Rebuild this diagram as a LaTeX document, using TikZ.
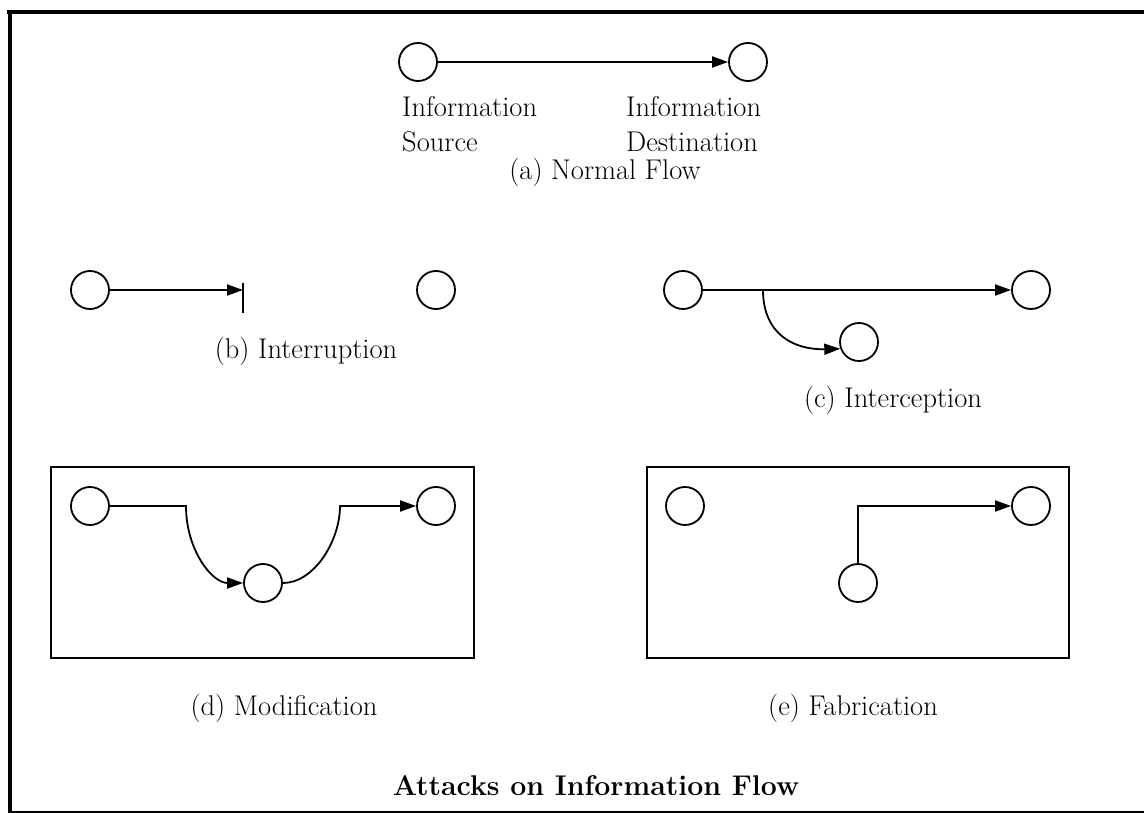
\documentclass[tikz,border=0pt]{standalone}
\usepackage{fontspec}
\usetikzlibrary{arrows.meta,positioning}
\tikzset{
  party/.style   = {draw, circle, line width=1.8pt, minimum size=38pt, inner sep=0pt},
  flow/.style    = {-{Triangle[length=16pt,width=11pt]}, line width=1.8pt},
  wire/.style    = {line width=1.8pt},
  panel/.style   = {draw, line width=1.8pt},
  caption/.style = {font=\fontsize{28.5}{35}\selectfont, inner sep=0pt, anchor=base},
  who/.style     = {caption, anchor=base west, align=left}
}

\begin{document}
\begin{tikzpicture}[x=1pt,y=-1pt]
  \useasboundingbox (0,0) rectangle (1144,813);
  % ---- outer frame (open on the right) ----
  \draw[line width=4pt] (7,12.5) -- (1144,12.5);
  \draw[line width=4pt] (10,11) -- (10,813);
  \draw[line width=1.5pt] (8,812) -- (1144,812);

  % ---- (a) normal flow ----
  \node[party] (asrc) at (418,62) {};
  \node[party] (adst) at (748,62) {};
  \draw[flow] (asrc) -- (adst);
  % base anchor sits on the last line
  \node[who] (asrcl) at (402,152) {Information\\Source};
  \node[who] (adstl) at (626,152) {Information\\Destination};
  \node[caption] (acap) at (605,180) {(a) Normal Flow};

  % ---- (b) interruption ----
  \node[party] (bsrc) at (90,290) {};
  \node[party] (bdst) at (436,290) {};
  \coordinate (bcut) at (243,290);
  \draw[flow] (bsrc) -- (bcut);
  \draw[wire] (243,283) -- (243,313);
  \node[caption] (bcap) at (306,358) {(b) Interruption};

  % ---- (c) interception ----
  \node[party] (csrc) at (683,290) {};
  \node[party] (cdst) at (1031,290) {};
  \node[party] (cspy) at (859,342) {};
  \draw[flow] (csrc) -- (cdst);
  \coordinate (ctap) at (763,290);
  \draw[flow] (ctap) .. controls (763,335) and (795,350) .. (cspy.200);
  \node[caption] (ccap) at (893,407) {(c) Interception};

  % ---- (d) modification ----
  \draw[panel] (51,467) rectangle (474,658);
  \node[party] (dsrc) at (90,506) {};
  \node[party] (ddst) at (436,506) {};
  \node[party] (dmid) at (263,583) {};
  \coordinate (ddown) at (186,506);
  \coordinate (dup) at (340,506);
  \draw[flow] (dsrc) -- (ddown) .. controls (186,550) and (212,583) .. (dmid.west);
  \draw[flow] (dmid.east) .. controls (314,583) and (340,541) .. (dup) -- (ddst.west);
  \node[caption] (dcap) at (284,715) {(d) Modification};

  % ---- (e) fabrication ----
  \draw[panel] (647,467) rectangle (1069,658);
  \node[party] (esrc) at (685,506) {};
  \node[party] (edst) at (1031,506) {};
  \node[party] (efake) at (858,583) {};
  \draw[flow] (efake.north) |- (edst.west);
  \node[caption] (ecap) at (853,715) {(e) Fabrication};

  \node[caption, font=\fontsize{28.5}{35}\selectfont\bfseries] (title) at (596,795)
    {Attacks on Information Flow};
\end{tikzpicture}
\end{document}
